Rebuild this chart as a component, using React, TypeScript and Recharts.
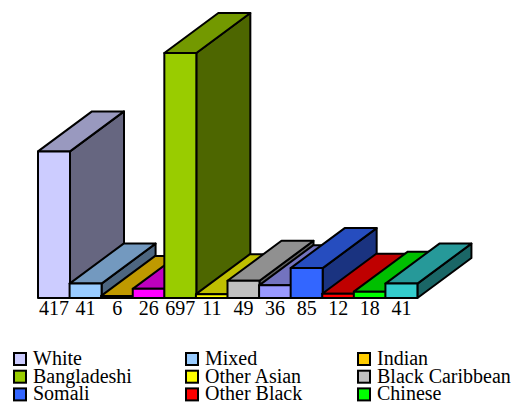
import { BarChart, Bar, Cell, XAxis, YAxis, Legend, LabelList } from 'recharts';

const GROUPS = [
  'White', 'Mixed', 'Indian', 'Pakistani',
  'Bangladeshi', 'Other Asian', 'Black Caribbean', 'Black African',
  'Somali', 'Other Black', 'Chinese', 'Other',
];
const COUNTS = [417, 41, 6, 26, 697, 11, 49, 36, 85, 12, 18, 41];
const COLORS = [
  '#ccccff', '#99ccff', '#ffcc00', '#ff00ff',
  '#99cc00', '#ffff00', '#c0c0c0', '#9999ff',
  '#3366ff', '#ff0000', '#00ff00', '#33cccc',
];

// legend is laid out 4 per row, only the first 3 columns fit in the frame
const LEGEND_PER_ROW = 4;
const LEGEND_VISIBLE_COLS = 3;
const LEGEND_H = 63;

const FONT = 'Liberation Serif, DejaVu Serif, serif';
const FONT_SIZE = 20;
const DX = 54;
const DY = 40;

const data = GROUPS.map((name, i) => ({ name, value: COUNTS[i], color: COLORS[i] }));

function shade(hex: string, k: number) {
  const n = parseInt(hex.slice(1), 16);
  const r = Math.round(((n >> 16) & 255) * k);
  const g = Math.round(((n >> 8) & 255) * k);
  const b = Math.round((n & 255) * k);
  return `rgb(${r},${g},${b})`;
}

// front face, lit top and shaded side of a box
function Bar3D(props: any) {
  const { x, y, width, height, fill } = props;
  const x2 = x + width;
  const y2 = y + height;
  const top = `${x},${y} ${x + DX},${y - DY} ${x2 + DX},${y - DY} ${x2},${y}`;
  const side = `${x2},${y} ${x2 + DX},${y - DY} ${x2 + DX},${y2 - DY} ${x2},${y2}`;
  return (
    <g stroke="#000" strokeWidth={2} strokeLinejoin="round">
      <polygon points={side} fill={shade(fill, 0.5)} />
      <polygon points={top} fill={shade(fill, 0.75)} />
      <rect x={x} y={y} width={width} height={height} fill={fill} />
    </g>
  );
}

function ValueLabel(props: any) {
  const { x, y, width, height, value } = props;
  return (
    <text
      x={x + width / 2}
      y={y + height + 17}
      textAnchor="middle"
      fontFamily={FONT}
      fontSize={FONT_SIZE}
      fill="#000"
    >
      {value}
    </text>
  );
}

function LegendGrid() {
  const items = data
    .map((d, i) => ({ ...d, row: Math.floor(i / LEGEND_PER_ROW), col: i % LEGEND_PER_ROW }))
    .filter((d) => d.col < LEGEND_VISIBLE_COLS);
  return (
    <svg width={523} height={LEGEND_H} style={{ display: 'block' }}>
      {items.map((d) => {
        const lx = 13 + d.col * 172;
        const ly = 25 + d.row * 17.7;
        return (
          <g key={d.name}>
            <rect x={lx + 1} y={ly - 12} width={12} height={12} fill={d.color} stroke="#000" strokeWidth={2} />
            <text x={lx + 20} y={ly} fontFamily={FONT} fontSize={FONT_SIZE} fill="#000">
              {d.name}
            </text>
          </g>
        );
      })}
    </svg>
  );
}

export default function App() {
  return (
    <div
      style={{
        position: 'absolute',
        left: 0,
        top: 0,
        width: 523,
        height: 403,
        background: '#fff',
        fontFamily: FONT,
      }}
    >
      <BarChart
        width={523}
        height={403}
        data={data}
        margin={{ top: 53, right: 106, bottom: 105 - LEGEND_H, left: 38 }}
        barCategoryGap={0}
        barGap={0}
      >
        <XAxis dataKey="name" hide />
        <YAxis hide domain={[0, 697]} />
        <Bar dataKey="value" shape={Bar3D} isAnimationActive={false}>
          {data.map((d) => (
            <Cell key={d.name} fill={d.color} />
          ))}
          <LabelList dataKey="value" content={ValueLabel} />
        </Bar>
        <Legend
          layout="vertical"
          align="center"
          verticalAlign="bottom"
          content={LegendGrid}
          wrapperStyle={{ left: 0, top: 340, width: 523, height: LEGEND_H }}
        />
      </BarChart>
    </div>
  );
}
